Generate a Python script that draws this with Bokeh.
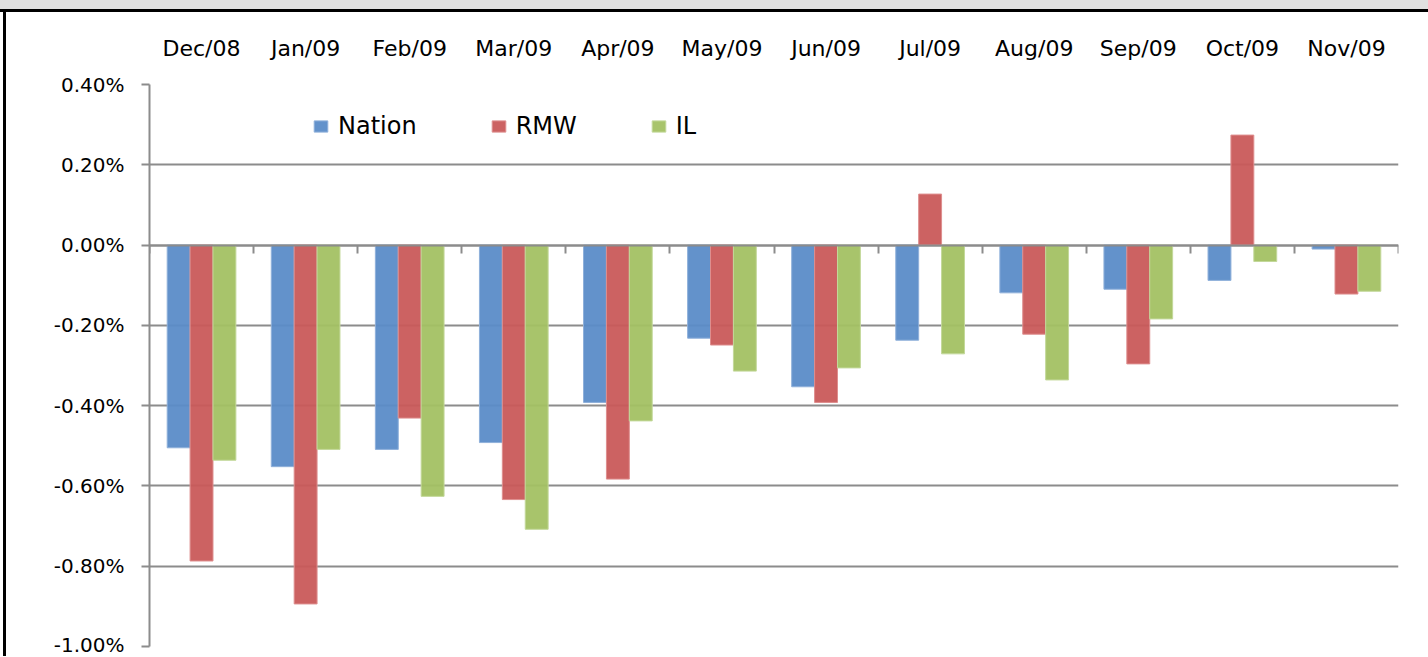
from bokeh.plotting import figure
from bokeh.models import (LinearAxis, FixedTicker, PrintfTickFormatter, Legend,
                          LegendItem, Range1d, ColumnDataSource, Div)
from bokeh.layouts import column
from bokeh.embed import file_html
from bokeh.resources import INLINE

months = ["Dec/08", "Jan/09", "Feb/09", "Mar/09", "Apr/09", "May/09",
          "Jun/09", "Jul/09", "Aug/09", "Sep/09", "Oct/09", "Nov/09"]
nation = [-0.505, -0.552, -0.509, -0.492, -0.392, -0.232,
          -0.353, -0.237, -0.119, -0.110, -0.088, -0.010]
rmw = [-0.787, -0.894, -0.431, -0.634, -0.583, -0.249,
       -0.392, 0.127, -0.222, -0.296, 0.274, -0.122]
il = [-0.536, -0.509, -0.626, -0.708, -0.438, -0.314,
      -0.306, -0.271, -0.336, -0.184, -0.041, -0.115]
series_names = ["Nation", "RMW", "IL"]
series_colors = ["#5B8CC8", "#C95A5A", "#A3C163"]
series_edges = ["#8FB0DA", "#DE8E8E", "#C3D89A"]
y_ticks = [-1.0, -0.8, -0.6, -0.4, -0.2, 0.0, 0.2, 0.4]

FONT = "DejaVu Sans"
GRID = "#8C8C8C"

n = len(months)
centers = [i + 0.5 for i in range(n)]
bar_w = 0.22
offsets = [-bar_w, 0.0, bar_w]

p = figure(width=1418, height=644,
           x_range=Range1d(0, n), y_range=Range1d(-1.0, 0.4),
           output_backend="svg", toolbar_location=None,
           x_axis_location=None, y_axis_location="left",
           min_border_left=143, min_border_right=26,
           min_border_top=72, min_border_bottom=10)
p.styles = {"border-left": "3px solid black", "margin-left": "3px"}
p.outline_line_color = None
p.background_fill_color = "white"
p.border_fill_color = "white"

# grid
p.xgrid.visible = False
p.ygrid.ticker = FixedTicker(ticks=y_ticks)
p.ygrid.grid_line_color = GRID
p.ygrid.grid_line_width = 2
p.ygrid.level = "underlay"

# y axis
ya = p.yaxis[0]
ya.ticker = FixedTicker(ticks=y_ticks)
ya.formatter = PrintfTickFormatter(format="%.2f%%")
ya.axis_line_color = GRID
ya.axis_line_width = 2
ya.major_tick_line_color = GRID
ya.major_tick_line_width = 2
ya.major_tick_out = 8
ya.major_tick_in = 0
ya.minor_tick_line_color = None
ya.major_label_text_font = FONT
ya.major_label_text_font_size = "20px"
ya.major_label_text_color = "black"
ya.major_label_standoff = 17

# top category labels
top = LinearAxis(ticker=FixedTicker(ticks=centers),
                 major_label_overrides={c: m for c, m in zip(centers, months)})
top.axis_line_color = None
top.major_tick_line_color = None
top.minor_tick_line_color = None
top.major_label_text_font = FONT
top.major_label_text_font_size = "22px"
top.major_label_text_color = "black"
top.major_label_standoff = 18
p.add_layout(top, "above")

# bars
renderers = []
for vals, off, col, edge in zip([nation, rmw, il], offsets, series_colors, series_edges):
    src = ColumnDataSource(dict(x=[c + off for c in centers], top=vals))
    r = p.vbar(x="x", top="top", bottom=0, width=bar_w, source=src,
               fill_color=col, fill_alpha=0.95, line_color=edge, line_width=1)
    renderers.append(r)

# zero axis with ticks between categories
zero = LinearAxis(ticker=FixedTicker(ticks=list(range(n + 1))), fixed_location=0)
zero.axis_line_color = GRID
zero.axis_line_width = 2
zero.major_tick_line_color = GRID
zero.major_tick_line_width = 2
zero.major_tick_out = 8
zero.major_tick_in = 0
zero.minor_tick_line_color = None
zero.major_label_text_font_size = "0px"
zero.major_label_text_alpha = 0
zero.major_label_standoff = 0
p.add_layout(zero, "below")

legend = Legend(items=[LegendItem(label=nm, renderers=[r]) for nm, r in zip(series_names, renderers)],
                orientation="horizontal", location=(163, 506),
                glyph_width=17, glyph_height=14, label_standoff=9, spacing=73,
                padding=0, margin=0, border_line_color=None, background_fill_alpha=0,
                label_text_font=FONT, label_text_font_size="24px", label_text_color="black")
p.add_layout(legend, "center")

band = Div(width=1428, height=12, margin=0,
           styles={"background-color": "#E0E0E0", "border-bottom": "3px solid black",
                   "box-sizing": "border-box"})
layout = column(band, p, spacing=0, margin=0)

open("out.html", "w").write(file_html(layout, INLINE))
